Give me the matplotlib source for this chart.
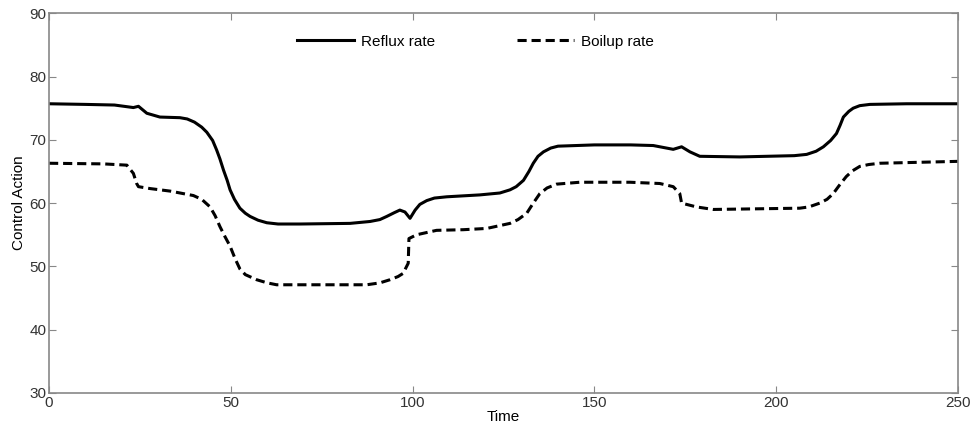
import matplotlib.pyplot as plt
import numpy as np

plt.rcParams['font.family'] = ['Liberation Sans', 'DejaVu Sans']

# Reflux rate (solid)
refluxTime = [0, 10, 18, 23.2, 24.6, 26.9, 30.5, 36, 38, 40, 42, 43.4, 45, 46.1, 47, 48, 49,
              49.8, 51, 52.5, 54, 55.3, 57.5, 59.9, 63, 69, 82.8, 88.3, 91, 92.9, 95, 96.5,
              97.9, 99.3, 100.7, 102, 103.9, 106, 109.4, 118.5, 124, 126.8, 128.5, 130.5,
              132, 133.2, 134.5, 136, 138, 140, 150, 160, 166.2, 171.7, 174, 176.3, 179,
              190, 205, 208.4, 211, 213, 215, 216.6, 217.6, 218.5, 220, 221.2, 223, 225.8,
              235.9, 250]
refluxRate = [75.7, 75.6, 75.5, 75.1, 75.3, 74.2, 73.6, 73.5, 73.3, 72.8, 72.0, 71.2, 69.9,
              68.4, 67.0, 65.2, 63.6, 62.1, 60.6, 59.2, 58.4, 57.9, 57.3, 56.9, 56.7, 56.7,
              56.8, 57.1, 57.4, 57.9, 58.5, 58.9, 58.6, 57.6, 58.9, 59.8, 60.4, 60.8, 61.0,
              61.3, 61.6, 62.1, 62.6, 63.6, 65.0, 66.3, 67.4, 68.1, 68.7, 69.0, 69.2, 69.2,
              69.1, 68.5, 68.9, 68.1, 67.4, 67.3, 67.5, 67.7, 68.2, 68.9, 69.9, 71.0, 72.3,
              73.6, 74.5, 75.0, 75.4, 75.6, 75.7, 75.7]

# Boilup rate (dashed)
boilupTime = [0, 15, 21.4, 23.2, 24.1, 24.6, 27.8, 33.3, 39.7, 42, 44.3, 45.7, 47, 48.4,
              49.8, 51.2, 52.5, 54, 57.1, 60, 62.6, 77.3, 87.4, 91, 93.8, 96, 97.4, 98.8,
              99.0, 101.1, 106.6, 113.9, 120.4, 126.8, 129, 131.4, 133.2, 135, 137, 139.6,
              146, 159.8, 168, 171.7, 173.5, 174, 178.1, 182.7, 206.5, 209, 212, 214, 215.7,
              217.5, 219.3, 221, 223, 225.5, 228.5, 250]
boilupRate = [66.3, 66.2, 66.0, 64.7, 63.1, 62.6, 62.3, 61.9, 61.2, 60.6, 59.4, 58.0, 56.3,
              54.7, 53.2, 51.2, 49.6, 48.7, 47.9, 47.4, 47.1, 47.1, 47.1, 47.4, 47.9, 48.4,
              48.9, 50.5, 54.4, 55.0, 55.7, 55.8, 56.0, 56.8, 57.4, 58.4, 60.0, 61.5, 62.4,
              63.0, 63.3, 63.3, 63.1, 62.6, 61.5, 60.0, 59.4, 59.0, 59.2, 59.4, 60.0, 60.6,
              61.5, 62.9, 64.2, 65.1, 65.8, 66.1, 66.3, 66.6]

fig = plt.figure(figsize=(9.71, 4.32), dpi=100)
ax = fig.add_axes([0.0505, 0.0903, 0.936, 0.879])

ax.plot(refluxTime, refluxRate, color='k', lw=2.2, label='Reflux rate')
ax.plot(boilupTime, boilupRate, color='k', lw=2.2, dashes=(3, 1.6), label='Boilup rate')

ax.set_xlim(0, 250)
ax.set_ylim(30, 90)
ax.set_xticks(np.arange(0, 251, 50))
ax.set_yticks(np.arange(30, 91, 10))
ax.tick_params(direction='in', top=True, right=True, length=5, color='#888888',
               labelsize=11, labelcolor='#333333', pad=2)
for s in ax.spines.values():
    s.set_color('#888888')
    s.set_linewidth(1.2)

ax.set_xlabel('Time', fontsize=11, labelpad=0)
ax.set_ylabel('Control Action', fontsize=11, labelpad=2)

ax.legend(loc='upper center', bbox_to_anchor=(0.469, 0.98), ncol=2, frameon=False,
          handlelength=3.7, columnspacing=5.4, fontsize=11, handletextpad=0.45)

fig.savefig('out.png', dpi=100)
